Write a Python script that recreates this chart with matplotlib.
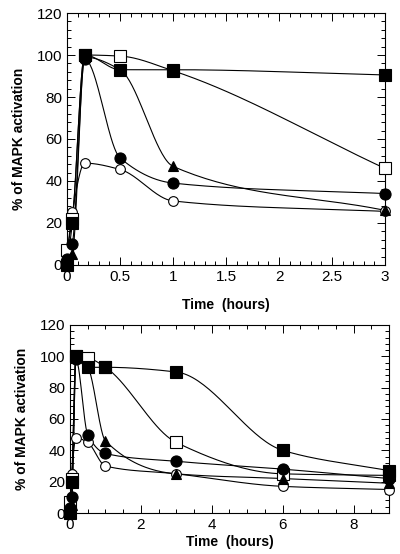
import numpy as np
import matplotlib
matplotlib.use("Agg")
import matplotlib.pyplot as plt
from matplotlib.ticker import MultipleLocator

plt.rcParams['font.family'] = ['Liberation Sans', 'DejaVu Sans']

# time points (hours)
t_top = [0, 0.05, 0.167, 0.5, 1, 3]
t_bot = [0, 0.05, 0.167, 0.5, 1, 3, 6, 9]

# top panel (% of MAPK activation)
top_sq_filled = [0, 20, 100, 93, 93, 90.5]
top_sq_open = [7, 22, 100, 99.5, 92.5, 46]
top_tri = [2, 5, 99, 93, 47, 26]
top_circ_filled = [3, 10, 98, 51, 39, 34]
top_circ_open = [5, 25, 48.5, 45.5, 30.5, 25.5]

# bottom panel
bot_sq_filled = [0, 20, 100, 93, 93, 90, 40, 27]
bot_sq_open = [7, 22, 100, 99, 93, 45, 25, 24]
bot_tri = [2, 5, 99, 93, 46, 25, 22, 19]
bot_circ_filled = [3, 10, 98, 50, 38, 33, 28, 22]
bot_circ_open = [5, 25, 48, 45, 30, 25, 17, 15]


def pchip(x, y, n=40):
    # monotone cubic curve through the points, for the connecting lines only
    x = np.asarray(x, float)
    y = np.asarray(y, float)
    h = np.diff(x)
    d = np.diff(y) / h
    m = np.zeros_like(y)
    for k in range(1, len(x) - 1):
        if d[k - 1] * d[k] > 0:
            w1 = 2 * h[k] + h[k - 1]
            w2 = h[k] + 2 * h[k - 1]
            m[k] = (w1 + w2) / (w1 / d[k - 1] + w2 / d[k])
    m[0] = d[0]
    m[-1] = d[-1]
    xs, ys = [], []
    for k in range(len(x) - 1):
        s = np.linspace(0, 1, n)
        h00 = 2 * s**3 - 3 * s**2 + 1
        h10 = s**3 - 2 * s**2 + s
        h01 = -2 * s**3 + 3 * s**2
        h11 = s**3 - s**2
        xs.append(x[k] + s * h[k])
        ys.append(h00 * y[k] + h10 * h[k] * m[k] + h01 * y[k + 1] + h11 * h[k] * m[k + 1])
    return np.concatenate(xs), np.concatenate(ys)


# drawing order: open circles, open squares, filled circles, triangles, filled squares
styles = [
    ('o', 'white', 7),
    ('s', 'white', 8.5),
    ('o', 'black', 8),
    ('^', 'black', 7.5),
    ('s', 'black', 8.5),
]


def draw(ax, t, series):
    for vals in series:
        xs, ys = pchip(t, vals)
        ax.plot(xs, ys, color='black', lw=0.8, zorder=2, clip_on=False)
    for i, ((mk, fc, ms), vals) in enumerate(zip(styles, series)):
        ax.plot(t, vals, ls='none', marker=mk, ms=ms, mfc=fc, mec='black',
                mew=0.8, zorder=3 + i, clip_on=False)


def style_axis(ax):
    ax.set_ylim(0, 120)
    ax.yaxis.set_major_locator(MultipleLocator(20))
    ax.yaxis.set_minor_locator(MultipleLocator(4))
    ax.tick_params(which='both', direction='in', top=True, right=True,
                   labelsize=11, width=0.7)
    ax.tick_params(which='major', length=6)
    ax.tick_params(which='minor', length=3)
    ax.set_ylabel('% of MAPK activation', fontsize=10, fontweight='bold', labelpad=8)
    for sp in ax.spines.values():
        sp.set_linewidth(0.8)


fig = plt.figure(figsize=(4, 5.54), dpi=100)

ax1 = fig.add_axes([0.1675, 0.5217, 0.795, 0.4548])
draw(ax1, t_top, [top_circ_open, top_sq_open, top_circ_filled, top_tri, top_sq_filled])
ax1.set_xlim(0, 3)
ax1.xaxis.set_minor_locator(MultipleLocator(0.1))
ax1.set_xticks([0, 0.5, 1, 1.5, 2, 2.5, 3])
ax1.set_xticklabels(['0', '0.5', '1', '1.5', '2', '2.5', '3'])
style_axis(ax1)
ax1.set_xlabel('Time  (hours)', fontsize=10, fontweight='bold', labelpad=10)

ax2 = fig.add_axes([0.175, 0.074, 0.7975, 0.3394])
draw(ax2, t_bot, [bot_circ_open, bot_sq_open, bot_circ_filled, bot_tri, bot_sq_filled])
ax2.set_xlim(0, 9)
ax2.xaxis.set_major_locator(MultipleLocator(2))
ax2.xaxis.set_minor_locator(MultipleLocator(0.5))
style_axis(ax2)
ax2.set_xlabel('Time  (hours)', fontsize=10, fontweight='bold', labelpad=2)

fig.savefig('out.png', dpi=100)
